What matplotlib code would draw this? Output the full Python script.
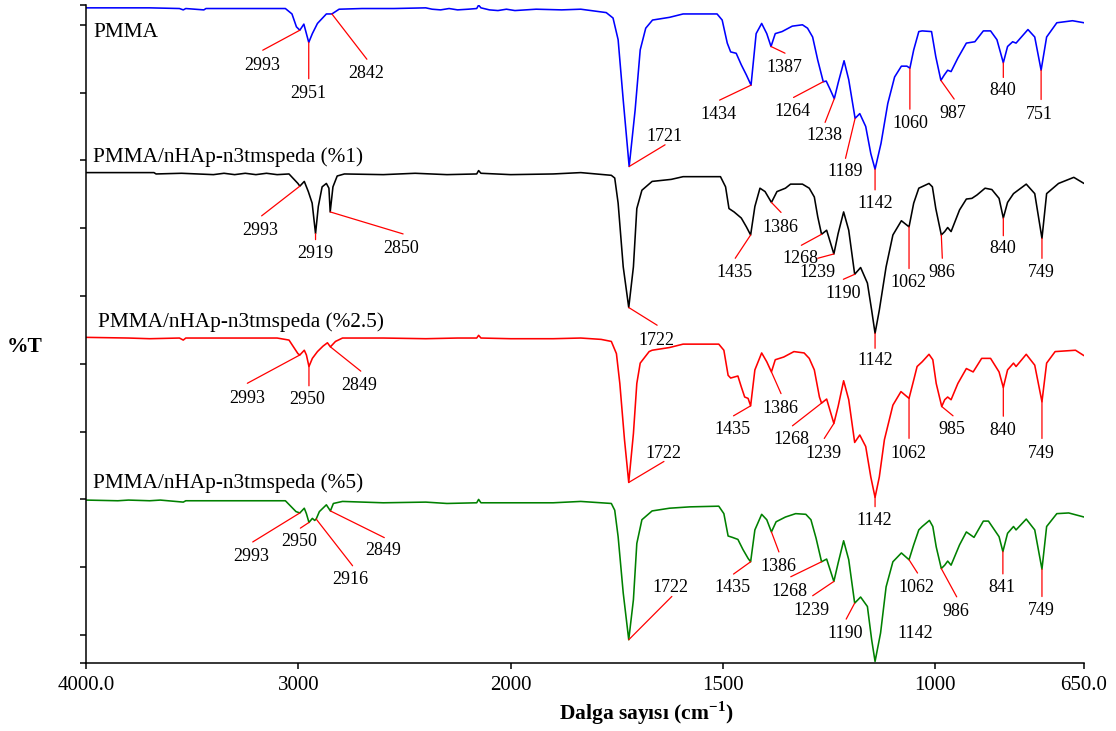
import numpy as np
import matplotlib
matplotlib.use("Agg")
import matplotlib.pyplot as plt

plt.rcParams['font.family'] = ['Liberation Serif', 'DejaVu Serif']
plt.rcParams['mathtext.fontset'] = 'custom'
plt.rcParams['mathtext.rm'] = 'Liberation Serif'
plt.rcParams['mathtext.bf'] = 'Liberation Serif:bold'

# ---------------- spectra (wavenumber in cm-1, stacked %T) ----------------
pmma_wn = [4000, 3700, 3560, 3542, 3530, 3445, 3435, 3200, 3061, 3030, 3009, 2993, 2974,
           2951, 2934, 2910, 2868, 2842, 2808, 2700, 2550, 2400, 2370, 2330, 2290,
           2250, 2200, 2160, 2151, 2140, 2100, 2060, 2020, 1990, 1940, 1880, 1835,
           1775, 1759, 1747, 1735, 1721, 1707, 1695, 1682, 1666, 1626, 1594, 1514,
           1502, 1490, 1482, 1469, 1457, 1445, 1434, 1422, 1409, 1397, 1387, 1377,
           1361, 1337, 1313, 1301, 1289, 1277, 1264, 1257, 1248, 1238, 1229, 1215,
           1204, 1189, 1178, 1164, 1152, 1142, 1128, 1112, 1096, 1080, 1067, 1060,
           1051, 1039, 1031, 1009, 999, 987, 979, 971, 963, 947, 927, 907, 887, 870,
           855, 840, 830, 818, 810, 782, 766, 751, 738, 714, 677, 650]
pmma_t = [92.5, 92.5, 92.4, 92.2, 92.4, 92.2, 92.4, 92.4, 92.4, 91.6, 89.7, 89.2, 90.1,
          87.4, 88.7, 90.2, 91.6, 91.6, 92.3, 92.4, 92.4, 92.5, 92.3, 92.2, 92.4,
          92.2, 92.3, 92.4, 92.9, 92.5, 92.2, 92.1, 92.3, 92.1, 92.3, 92.2, 92.3,
          91.8, 91.0, 87.8, 78.9, 69.1, 77.4, 86.3, 89.5, 90.7, 91.1, 91.6, 91.6,
          90.7, 87.3, 86.0, 85.8, 84.1, 82.6, 81.1, 88.7, 90.2, 88.7, 86.8, 88.7,
          89.0, 89.8, 90.0, 89.5, 88.2, 84.8, 81.6, 81.7, 80.5, 79.1, 81.4, 84.7,
          81.9, 76.2, 76.9, 75.0, 71.0, 68.7, 72.5, 78.4, 82.3, 83.9, 83.9, 83.6,
          86.3, 89.0, 89.1, 89.0, 85.3, 81.8, 82.6, 83.3, 83.1, 85.1, 87.3, 87.5, 89.1, 89.1,
          87.8, 84.4, 86.8, 87.5, 87.3, 89.3, 88.2, 83.3, 88.2, 90.3, 90.6, 90.3]

nhap1_wn = [4000, 3680, 3670, 3550, 3400, 3350, 3300, 3250, 3200, 3150, 3100, 3044,
            3002, 2993, 2972, 2953, 2935, 2919, 2906, 2888, 2868, 2856, 2850, 2837,
            2817, 2783, 2600, 2450, 2300, 2160, 2151, 2140, 2000, 1900, 1835, 1763,
            1755, 1747, 1735, 1722, 1711, 1703, 1691, 1667, 1622, 1594, 1506, 1494,
            1486, 1474, 1457, 1445, 1435, 1425, 1413, 1401, 1386, 1373, 1353, 1341,
            1313, 1297, 1285, 1277, 1268, 1256, 1239, 1229, 1216, 1204, 1190, 1176,
            1160, 1150, 1142, 1132, 1116, 1100, 1080, 1062, 1051, 1039, 1015, 1007,
            999, 986, 978, 971, 963, 943, 927, 914, 902, 883, 867, 850, 840, 830,
            816, 786, 766, 749, 738, 710, 674, 650]
nhap1_t = [68.2, 68.2, 68.0, 68.1, 67.9, 68.1, 67.9, 68.1, 67.9, 68.1, 67.9, 68.0,
           66.6, 66.2, 66.9, 65.4, 63.7, 59.2, 63.2, 66.1, 66.6, 65.9, 62.4, 66.1,
           67.7, 68.0, 67.9, 68.1, 67.9, 68.0, 68.5, 68.1, 67.9, 68.0, 68.2, 67.8,
           67.4, 63.7, 54.3, 48.3, 54.3, 62.9, 65.6, 66.9, 67.2, 67.6, 67.6, 66.1,
           62.9, 62.4, 61.5, 60.2, 59.0, 63.2, 65.9, 65.4, 63.8, 65.4, 65.9, 66.5,
           66.5, 65.9, 64.6, 61.7, 59.1, 59.7, 56.2, 59.2, 62.4, 59.7, 53.2, 54.2,
           51.9, 47.9, 44.5, 47.9, 54.3, 59.0, 61.1, 60.2, 63.7, 65.9, 66.6, 66.1,
           62.9, 59.0, 59.5, 60.1, 59.5, 62.7, 64.3, 64.4, 64.9, 65.9, 65.7, 64.4, 61.5, 63.8,
           65.1, 66.5, 65.1, 58.5, 65.1, 66.6, 67.5, 66.6]

nhap25_wn = [4000, 3800, 3700, 3560, 3542, 3530, 3300, 3100, 3044, 3002, 2993, 2972,
             2962, 2950, 2934, 2910, 2884, 2863, 2849, 2825, 2792, 2600, 2400, 2250,
             2160, 2151, 2140, 2000, 1900, 1835, 1787, 1763, 1751, 1743, 1732, 1722,
             1711, 1703, 1695, 1674, 1667, 1626, 1594, 1510, 1498, 1488, 1482, 1465,
             1457, 1449, 1441, 1435, 1425, 1409, 1397, 1386, 1377, 1357, 1333, 1309,
             1297, 1285, 1273, 1268, 1256, 1239, 1229, 1216, 1204, 1190, 1178, 1164,
             1152, 1142, 1132, 1120, 1100, 1081, 1062, 1051, 1043, 1031, 1015, 1006,
             998, 985, 978, 971, 963, 947, 927, 911, 891, 870, 850, 840, 830, 816,
             810, 786, 766, 749, 738, 718, 670, 650]
nhap25_t = [43.9, 43.8, 43.7, 43.8, 43.5, 43.8, 43.8, 43.8, 43.5, 41.5, 41.3, 42.0,
            41.3, 39.6, 40.8, 41.8, 42.6, 43.1, 42.5, 43.3, 43.8, 43.8, 43.7, 43.8,
            43.8, 44.2, 43.8, 43.7, 43.7, 43.8, 43.6, 43.3, 41.5, 37.1, 28.8, 22.5,
            29.7, 37.1, 40.1, 41.8, 42.0, 42.4, 42.9, 42.9, 42.0, 38.3, 37.9, 38.2,
            36.6, 35.1, 34.9, 33.8, 39.1, 41.6, 40.3, 38.8, 40.6, 41.0, 41.8, 41.6,
            40.8, 39.1, 35.1, 34.2, 34.8, 31.2, 33.7, 37.5, 34.7, 28.4, 29.5, 27.8,
            23.3, 20.3, 23.3, 28.8, 33.9, 35.9, 34.9, 37.6, 39.6, 40.3, 41.4, 40.6,
            37.1, 33.7, 34.7, 35.1, 34.7, 37.1, 39.3, 38.8, 40.8, 40.8, 38.8, 36.5, 39.1, 40.1,
            39.6, 41.4, 39.8, 34.4, 40.1, 41.8, 42.0, 41.2]

nhap5_wn = [4000, 3850, 3800, 3700, 3650, 3542, 3530, 3300, 3100, 3061, 3011, 2993,
            2972, 2962, 2950, 2934, 2923, 2916, 2901, 2868, 2849, 2835, 2792, 2600,
            2400, 2300, 2160, 2151, 2140, 2000, 1900, 1835, 1763, 1755, 1747, 1735,
            1722, 1711, 1703, 1691, 1667, 1626, 1578, 1510, 1498, 1488, 1478, 1465,
            1453, 1441, 1435, 1425, 1409, 1397, 1386, 1375, 1353, 1329, 1305, 1293,
            1281, 1268, 1256, 1239, 1229, 1216, 1204, 1190, 1176, 1160, 1150, 1142,
            1129, 1116, 1100, 1080, 1062, 1051, 1039, 1031, 1014, 1006, 998, 986,
            978, 971, 963, 943, 927, 909, 887, 875, 850, 841, 830, 816, 810, 786,
            766, 749, 738, 714, 686, 650]
nhap5_t = [19.9, 19.8, 19.9, 19.8, 19.9, 19.6, 19.8, 19.8, 19.8, 19.8, 18.2, 18.0,
           18.7, 17.9, 16.6, 17.2, 16.9, 17.1, 18.2, 19.2, 18.3, 19.4, 19.7, 19.5,
           19.6, 19.4, 19.5, 20.0, 19.5, 19.5, 19.5, 19.7, 19.4, 18.4, 14.5, 6.2,
           -0.7, 5.2, 13.5, 17.0, 18.3, 18.7, 18.9, 19.0, 17.9, 14.6, 14.4, 14.1,
           12.6, 11.3, 10.8, 15.5, 17.8, 17.0, 15.2, 16.7, 17.4, 17.9, 17.8, 17.0,
           14.3, 10.8, 11.2, 7.9, 10.6, 13.9, 11.1, 4.7, 5.6, 4.2, -0.7, -3.9,
           0.3, 7.1, 10.8, 12.1, 11.1, 13.3, 15.5, 16.0, 16.9, 16.0, 13.0, 9.8,
           10.3, 10.9, 10.3, 13.3, 15.2, 14.4, 16.8, 16.8, 14.5, 12.3, 15.0, 16.0, 15.5, 17.1,
           15.5, 9.7, 16.0, 17.9, 18.0, 17.4]

sample_names = ['PMMA', 'PMMA/nHAp-n3tmspeda (%1)',
                'PMMA/nHAp-n3tmspeda (%2.5)', 'PMMA/nHAp-n3tmspeda (%5)']

# labelled band positions for each spectrum
pmma_peaks = [2993, 2951, 2842, 1721, 1434, 1387, 1264, 1238, 1189, 1142, 1060, 987, 840, 751]
nhap1_peaks = [2993, 2919, 2850, 1722, 1435, 1386, 1268, 1239, 1190, 1142, 1062, 986, 840, 749]
nhap25_peaks = [2993, 2950, 2849, 1722, 1435, 1386, 1268, 1239, 1142, 1062, 985, 840, 749]
nhap5_peaks = [2993, 2950, 2916, 2849, 1722, 1435, 1386, 1268, 1239, 1190, 1142, 1062, 986, 841, 749]

# ---------------- layout of the band labels (pixel offsets, x right / y down) --------
pmma_lead = [(-37.1, 20), (0, 36.3), (35, 45.3), (35.9, -21.7), (-31.5, 15), (14, 6.7),
             (-29.7, 15.7), (-9.2, 23.7), (-9.6, 40), (0, 20.7), (0, 41), (13.3, 18.7),
             (0, 14.7), (0, 29.3)]
pmma_text = [(-37.5, 35), (0, 51.3), (33.9, 60), (34.9, -30), (-32.5, 29.3), (13, 20.7),
             (-30.8, 30), (-9.9, 37), (-10.3, 53.3), (0, 34), (0, 55.7), (12, 33.3),
             (-0.7, 28), (-1.7, 44)]
nhap1_lead = [(-38.2, 29.7), (0, 6), (72.9, 22), (28.4, 17.7), (-15.4, 23.3), (9.6, 10),
              (-20.2, 11), (-16.1, 4.3), (-11.3, 5), (0, 15), (0, 41.7), (1, 23.3),
              (0, 17.7), (0, 20)]
nhap1_text = [(-39.3, 44), (0, 20), (71.4, 36.7), (27.4, 32.7), (-16.1, 37.3), (9.2, 24.7),
              (-21.2, 24.3), (-16.1, 18.7), (-11.3, 19.3), (0, 27.3), (-0.7, 56), (0.7, 37.3),
              (-0.7, 30.7), (-0.7, 34)]
nhap25_lead = [(-52.5, 28.3), (0, 19.3), (30.4, 24.3), (35.2, -21), (-17.1, 10), (9.6, 21.7),
               (-29.1, 22.7), (-9.6, 15), (0, 9.3), (0, 40), (11.3, 9.3), (0, 28.7), (0, 36.7)]
nhap25_text = [(-52.9, 43.3), (-1.4, 33.3), (28.9, 39), (34.2, -29.3), (-17.8, 24), (9.2, 36.7),
               (-30.1, 36.7), (-10.3, 30), (-0.7, 23.3), (-0.7, 55), (10.3, 23.3), (-0.7, 42.7),
               (-0.7, 51.7)]
nhap5_lead = [(-47.1, 29), (-8.6, 5.7), (36.4, 46.7), (53.9, 26.7), (43.1, -43.3), (-17.1, 12.3),
              (7.5, 20), (-30.8, 15), (-21.2, 14.3), (-8.5, 16), None, (8.5, 13.3),
              (15.4, 28.3), (0, 22.3), (0, 27.3)]
nhap5_text = [(-48.2, 44), (-9.6, 19.3), (34.6, 60), (52.9, 40), (42.1, -52.3), (-17.8, 26),
              (6.8, 34.3), (-31.8, 29.3), (-22.2, 29.3), (-9.2, 30), (39.7, -28.3), (7.5, 27.7),
              (14.7, 42.7), (-1, 36), (-0.7, 41.7)]

W, H = 1116, 731
fig = plt.figure(figsize=(W / 100, H / 100), dpi=100)
ax = fig.add_axes([86 / W, 1 - 663 / H, (1084 - 86) / W, (663 - 5) / H])


# wavenumber axis: the region above 2000 cm-1 is drawn at half scale
def fwd(w):
    w = np.asarray(w, dtype=float)
    return np.where(w > 2000, 2000 + (w - 2000) / 2.0, w)


def inv(u):
    u = np.asarray(u, dtype=float)
    return np.where(u > 2000, 2000 + (u - 2000) * 2.0, u)


ax.set_xscale('function', functions=(fwd, inv))
ax.set_xlim(4000, 650)
ylo, yhi = -4.13, 92.92
ax.set_ylim(ylo, yhi)

series = [
    (pmma_wn, pmma_t, '#0000ff', pmma_peaks, pmma_lead, pmma_text),
    (nhap1_wn, nhap1_t, '#000000', nhap1_peaks, nhap1_lead, nhap1_text),
    (nhap25_wn, nhap25_t, '#ff0000', nhap25_peaks, nhap25_lead, nhap25_text),
    (nhap5_wn, nhap5_t, '#008000', nhap5_peaks, nhap5_lead, nhap5_text),
]

for wn, tr, col, peaks, leads, texts in series:
    ax.plot(wn, tr, color=col, lw=1.15, solid_joinstyle='round', solid_capstyle='round')
    order = np.argsort(wn)
    ws = np.asarray(wn, dtype=float)[order]
    ts = np.asarray(tr, dtype=float)[order]
    for p, lead, txt in zip(peaks, leads, texts):
        yp = float(np.interp(p, ws, ts))
        if lead is not None:
            ax.annotate('', xy=(p, yp), xytext=(lead[0], -lead[1]),
                        textcoords='offset pixels',
                        arrowprops=dict(arrowstyle='-', color='#ff0000', lw=0.9,
                                        shrinkA=0, shrinkB=0))
        ax.annotate(str(p), xy=(p, yp), xytext=(txt[0], -txt[1]),
                    textcoords='offset pixels', ha='center', va='center',
                    fontsize=13, color='black')

# sample names
name_pos = [(93, 36.7), (93, 162), (98, 327), (93, 488)]
for name, (px, py) in zip(sample_names, name_pos):
    fig.text(px / W, 1 - py / H, name, ha='left', va='baseline', fontsize=15.3)

# axes styling
for s in ('top', 'right'):
    ax.spines[s].set_visible(False)
for s in ('left', 'bottom'):
    ax.spines[s].set_linewidth(1.1)

xticks = [4000, 3000, 2000, 1500, 1000, 650]
xticklabels = ['4000.0', '3000', '2000', '1500', '1000', '650.0']
ax.set_xticks(xticks)
ax.set_xticklabels(xticklabels)
ax.set_yticks([ylo] + list(range(0, 91, 10)) + [yhi])
ax.set_yticklabels([])
ax.tick_params(axis='both', direction='out', length=4.3, width=1.1)
ax.tick_params(axis='x', labelsize=15, pad=5)

fig.text(646 / W, 1 - 720 / H, r'Dalga sayısı (cm$^{\mathbf{-1}}$)', ha='center',
         va='baseline', fontsize=15.5, fontweight='bold')
fig.text(25 / W, 1 - 352 / H, '%T', ha='center', va='baseline', fontsize=15.5,
         fontweight='bold')

fig.savefig('out.png', dpi=100)
